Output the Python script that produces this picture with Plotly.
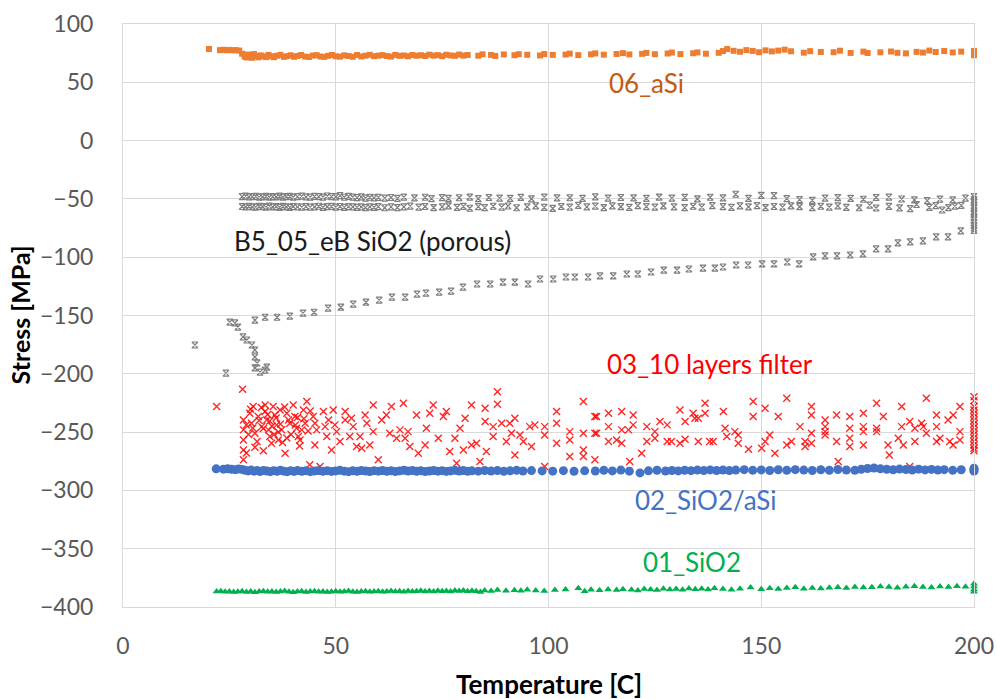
import plotly.graph_objects as go

# ---------------- data ----------------
aSi_x = [20.2, 22.8, 23.5, 24.3, 25.0, 25.8, 26.5, 27.3, 28.0, 28.6,
         29.0, 29.4, 29.8, 30.3, 30.8, 31.3, 31.8, 32.4, 33.0, 33.6,
         34.2, 34.8, 35.5, 36.2, 37.0, 37.8, 38.6, 39.4, 40.2, 41.0,
         41.9, 42.8, 43.7, 44.6, 45.5, 46.4, 47.3, 48.2, 49.1, 50.0,
         51.0, 52.0, 53.0, 54.0, 55.0, 56.0, 57.0, 58.0, 59.0, 60.0,
         61.0, 62.0, 63.0, 64.0, 65.0, 66.0, 67.0, 68.0, 69.0, 70.0,
         71.0, 72.0, 73.0, 74.0, 75.0, 76.0, 77.0, 78.0, 79.0, 80.0,
         81.0, 83.5, 84.5, 86.5, 87.5, 89.5, 92.0, 93.0, 95.0, 98.0,
         99.0, 101.0, 104.0, 105.0, 107.0, 110.0, 111.0, 113.0, 116.0, 117.5,
         119.0, 122.0, 123.0, 125.0, 128.0, 129.0, 131.0, 134.0, 135.0, 137.0,
         140.0, 141.0, 142.0, 143.5, 145.0, 146.5, 148.0, 149.5, 151.0, 152.5,
         154.0, 155.5, 157.0, 160.0, 161.5, 164.0, 167.0, 168.5, 171.0, 174.0,
         175.0, 178.0, 180.5, 182.0, 184.0, 186.5, 188.0, 189.5, 191.0, 193.0,
         195.0, 197.0, 200.0, 200.0, 200.0]
aSi_y = [78.6, 77.6, 77.9, 77.5, 77.8, 77.4, 77.6, 77.2, 74.5, 72.1,
         71.3, 73.8, 72.0, 71.0, 74.2, 72.5, 71.4, 73.1, 72.2, 71.6,
         73.5, 72.3, 71.5, 72.8, 73.6, 71.8, 72.4, 73.2, 71.9, 72.6,
         73.4, 72.0, 71.7, 72.9, 73.3, 72.1, 71.8, 72.7, 73.5, 72.3,
         72.0, 73.1, 72.6, 71.9, 73.4, 72.2, 72.8, 73.6, 72.4, 72.9,
         73.3, 72.5, 72.1, 73.5, 72.7, 73.0, 72.3, 73.4, 72.8, 73.2,
         72.6, 73.7, 72.9, 73.3, 72.4, 73.6, 73.0, 72.7, 73.8, 72.9,
         73.4, 72.8, 74.0, 73.5, 72.6, 73.9, 73.2, 74.1, 73.6, 73.0,
         74.2, 73.5, 73.8, 74.6, 73.3, 74.0, 74.8, 73.7, 74.3, 75.0,
         73.9, 74.4, 75.2, 74.1, 74.7, 75.5, 74.2, 74.9, 75.6, 74.5,
         75.3, 76.8, 78.5, 77.0, 76.2, 77.6, 76.9, 75.8, 77.4, 76.5,
         77.2, 78.0, 76.6, 75.4, 76.7, 76.0, 75.8, 77.1, 75.2, 76.3,
         75.1, 75.7, 76.4, 75.3, 74.8, 76.1, 75.5, 77.2, 76.0, 76.8,
         75.6, 76.3, 74.5, 76.8, 73.2]

porous_x = [28.0, 28.8, 29.6, 30.4, 31.2, 32.0, 32.8, 33.6, 34.4, 35.2,
            36.0, 36.8, 37.6, 38.4, 39.2, 40.0, 41.0, 42.0, 43.0, 44.0,
            45.0, 46.0, 47.0, 48.0, 49.0, 50.0, 51.0, 52.0, 53.0, 54.0,
            55.0, 56.0, 57.0, 58.0, 59.0, 60.0, 61.5, 63.0, 64.5, 66.0,
            68.5, 71.0, 72.5, 75.0, 76.5, 79.0, 81.5, 83.5, 86.0, 88.5,
            91.0, 93.5, 96.0, 99.0, 102.0, 105.0, 108.0, 111.0, 114.0, 117.0,
            120.0, 123.0, 126.0, 129.0, 132.0, 135.0, 138.0, 141.0, 144.0, 147.0,
            150.0, 153.0, 156.0, 159.0, 162.0, 165.0, 168.0, 171.0, 174.0, 177.0,
            180.0, 183.0, 186.0, 189.0, 192.0, 195.0, 198.0,
            28.0, 28.8, 29.6, 30.4, 31.2, 32.0, 32.8, 33.6, 34.4, 35.2,
            36.0, 36.8, 37.6, 38.4, 39.2, 40.0, 41.0, 42.0, 43.0, 44.0,
            45.0, 46.0, 47.0, 48.0, 49.0, 50.0, 51.0, 52.0, 53.0, 54.0,
            55.0, 56.0, 57.0, 58.0, 59.0, 60.0, 61.5, 63.0, 64.5, 66.0,
            67.5, 69.5, 71.0, 73.0, 75.0, 76.5, 78.5, 80.0, 81.5, 83.5,
            85.0, 87.0, 89.0, 90.5, 92.5, 95.0, 97.0, 99.0, 101.0, 103.0,
            105.0, 107.0, 109.0, 111.0, 113.0, 115.0, 117.0, 119.0, 121.0, 123.0,
            125.0, 127.0, 129.5, 132.0, 134.0, 136.0, 138.5, 141.0, 143.0, 145.0,
            147.0, 149.0, 151.0, 153.0, 155.0, 157.0, 159.0, 162.0, 164.0, 166.0,
            168.0, 170.0, 173.0, 175.5, 177.0, 180.0, 182.5, 185.0, 186.5, 189.5,
            191.0, 192.5, 194.0, 195.5, 197.0,
            200.0, 200.0, 200.0, 200.0, 200.0, 200.0, 200.0, 200.0, 200.0, 200.0,
            200.0, 200.0, 200.0, 200.0, 200.0,
            16.9, 24.2, 25.1, 26.3, 27.0, 28.2, 29.1, 30.3, 31.0, 31.0,
            31.5, 31.0, 32.2, 33.4, 33.8, 31.0, 33.4, 36.2, 39.2, 42.3,
            44.9, 48.2, 51.2, 54.1, 57.1, 60.2, 63.2, 66.3, 69.1, 71.2,
            74.3, 77.1, 79.9, 83.2, 86.3, 89.3, 92.1, 95.2, 98.0, 101.1,
            104.1, 106.2, 109.3, 112.1, 115.2, 118.4, 121.0, 124.1, 127.1, 130.2,
            133.0, 136.3, 139.1, 141.0, 144.1, 146.9, 150.2, 153.0, 156.1, 158.9,
            162.2, 165.0, 167.8, 170.9, 173.9, 177.0, 179.8, 182.1, 185.0, 188.0,
            191.1, 193.9, 196.9]
porous_y = [-48.0, -47.6, -48.3, -48.1, -47.8, -48.5, -48.2, -47.9, -48.4, -48.0,
            -48.3, -47.7, -48.6, -48.1, -47.9, -48.4, -48.0, -47.6, -48.2, -48.5,
            -47.8, -48.1, -48.4, -47.5, -48.0, -48.3, -47.2, -48.6, -47.9, -48.4,
            -48.9, -48.2, -49.3, -48.6, -49.1, -48.7, -49.4, -48.8, -49.6, -48.5,
            -49.2, -48.6, -49.8, -48.9, -49.5, -49.0, -48.4, -49.7, -48.8, -49.3,
            -49.5, -48.7, -49.9, -48.5, -49.2, -49.0, -49.6, -48.3, -49.4, -48.8,
            -49.1, -49.5, -48.4, -49.3, -48.7, -49.9, -48.6, -49.2, -46.0, -49.5,
            -47.0, -47.2, -49.8, -50.6, -51.2, -49.4, -48.9, -49.6, -50.3, -48.8,
            -48.5, -50.1, -50.9, -51.5, -50.2, -50.8, -49.4,
            -56.5, -56.9, -56.3, -56.8, -57.1, -56.4, -56.7, -57.0, -56.2, -56.8,
            -56.6, -57.2, -56.4, -56.9, -57.3, -56.5, -56.8, -57.1, -56.6, -57.0,
            -56.8, -56.3, -57.2, -56.7, -56.4, -57.0, -56.5, -57.3, -56.6, -56.9,
            -57.2, -56.8, -57.5, -56.9, -57.3, -56.6, -57.6, -56.8, -57.4, -56.9,
            -56.2, -57.0, -56.5, -57.4, -56.8, -55.9, -57.2, -56.4, -58.0, -56.6,
            -57.5, -56.3, -57.0, -56.1, -57.6, -56.8, -55.9, -57.3, -58.2, -56.5,
            -57.1, -55.6, -56.9, -56.2, -57.4, -56.0, -56.7, -57.3, -55.8, -56.6,
            -57.0, -55.9, -56.8, -57.5, -56.3, -57.1, -55.7, -56.6, -57.3, -56.0,
            -56.9, -55.8, -57.4, -56.5, -57.0, -55.9, -56.7, -57.5, -56.3, -57.1,
            -56.0, -57.2, -57.6, -55.3, -57.8, -56.4, -57.7, -58.3, -54.8, -57.2,
            -55.8, -59.5, -57.4, -56.2, -55.5,
            -48.0, -50.5, -53.0, -55.5, -58.0, -60.5, -63.0, -65.5, -68.0, -70.5,
            -73.0, -75.0, -77.0, -52.0, -62.0,
            -175.3, -199.4, -155.6, -156.4, -159.9, -168.4, -171.0, -175.3, -179.6, -185.6,
            -190.7, -195.0, -198.5, -196.8, -194.2, -154.0, -151.5, -151.5, -150.6, -148.0,
            -147.2, -143.7, -142.9, -140.3, -138.6, -136.8, -134.2, -134.2, -131.7, -130.8,
            -129.9, -129.1, -125.6, -123.0, -123.0, -121.3, -121.3, -123.0, -118.7, -118.7,
            -117.0, -117.0, -117.0, -116.1, -116.1, -114.4, -114.4, -112.7, -111.0, -111.0,
            -110.1, -109.3, -109.3, -108.4, -106.7, -106.7, -105.8, -105.8, -104.1, -105.8,
            -99.8, -98.9, -98.9, -98.1, -97.2, -92.9, -92.9, -87.7, -86.8, -86.0,
            -82.6, -82.6, -77.4]

filter_x = [22.0, 28.1, 28.3, 28.3, 28.3, 28.3, 28.3, 29.8, 30.6, 30.2,
            31.0, 31.8, 32.6, 33.4, 33.4, 33.8, 34.2, 34.5, 34.9, 35.3,
            35.7, 36.1, 36.5, 36.9, 37.3, 38.1, 38.5, 38.9, 39.2, 40.0,
            40.4, 40.8, 41.2, 41.6, 42.0, 42.4, 43.2, 42.8, 43.9, 44.7,
            45.1, 45.1, 45.5, 46.3, 47.1, 47.5, 47.9, 48.3, 49.0, 49.4,
            49.8, 50.2, 51.0, 52.2, 52.2, 53.3, 53.7, 54.1, 54.9, 55.7,
            56.1, 56.9, 57.3, 58.0, 58.8, 58.8, 60.0, 60.8, 61.9, 62.7,
            63.1, 64.3, 65.1, 65.9, 66.3, 67.0, 67.4, 69.0, 69.4, 71.0,
            71.3, 72.1, 72.9, 74.1, 75.3, 76.0, 76.8, 78.0, 78.4, 79.2,
            80.0, 80.4, 81.9, 81.9, 83.1, 83.9, 85.1, 85.1, 85.4, 87.0,
            87.0, 88.0, 88.0, 89.0, 90.1, 90.9, 91.3, 92.1, 92.1, 93.3,
            94.1, 95.6, 96.0, 96.8, 99.1, 99.1, 99.1, 101.9, 101.9, 101.9,
            105.0, 105.0, 105.0, 108.2, 108.2, 108.2, 108.2, 111.3, 111.3,
            29.0, 29.5, 30.0, 31.5, 32.0, 32.5, 33.0, 34.0, 35.0, 35.5,
            36.0, 37.0, 37.5, 38.0, 39.5, 40.5, 41.0, 43.5, 44.0, 31.0,
            33.0, 34.5, 36.5, 38.5, 42.5, 30.5, 29.0, 41.5,
            110.9, 110.9, 110.9, 114.1, 114.1, 114.1, 116.0, 117.2, 117.2, 117.2,
            118.8, 119.1, 119.9, 119.9, 121.9, 123.1, 123.1, 125.0, 125.0, 126.2,
            127.9, 127.9, 128.9, 130.9, 130.9, 132.1, 132.1, 134.0, 134.4, 135.2,
            135.2, 136.8, 136.8, 137.9, 138.7, 141.1, 141.5, 141.9, 143.8, 144.6,
            144.6, 147.0, 148.1, 148.1, 150.1, 150.9, 150.9, 152.0, 153.2, 154.0,
            156.0, 156.0, 157.1, 159.1, 160.3, 160.3, 161.8, 161.8, 161.8, 161.8,
            165.0, 165.0, 165.0, 165.0, 167.7, 167.7, 168.1, 170.8, 170.8, 170.8,
            170.8, 174.0, 174.0, 174.0, 174.0, 177.1, 177.1, 177.1, 178.7, 179.8,
            180.1, 182.2, 183.0, 183.0, 183.4, 184.9, 184.9, 186.1, 186.1, 187.7,
            188.1, 188.8, 188.8, 191.2, 191.2, 191.2, 192.0, 193.9, 194.3, 195.1,
            195.1, 196.7, 196.7, 196.7,
            200.0, 200.0, 200.0, 200.0, 200.0, 200.0, 200.0, 200.0, 200.0, 200.0,
            200.0, 200.0, 200.0, 200.0, 200.0, 200.0]
filter_y = [-228.1, -213.3, -239.6, -248.1, -256.7, -265.3, -273.8, -233.8, -228.1, -242.4,
            -251.0, -236.7, -245.3, -226.7, -232.4, -239.6, -248.1, -253.8, -259.6, -228.1,
            -235.3, -243.8, -256.7, -231.0, -248.1, -268.1, -233.8, -239.6, -242.4, -226.7,
            -236.7, -246.7, -253.8, -256.7, -248.1, -231.0, -223.8, -242.4, -278.1, -236.7,
            -242.4, -261.0, -248.1, -279.6, -232.4, -245.3, -253.8, -239.6, -265.3, -231.0,
            -243.8, -249.6, -258.1, -232.4, -239.6, -253.8, -238.1, -245.3, -262.4, -253.8,
            -263.8, -235.3, -242.4, -261.0, -226.7, -249.6, -273.8, -239.6, -235.3, -251.0,
            -228.1, -255.3, -248.1, -225.3, -255.3, -249.6, -262.4, -235.3, -268.1, -261.0,
            -246.7, -233.8, -226.7, -255.3, -236.7, -232.4, -266.7, -255.3, -276.7, -246.7,
            -265.3, -238.1, -226.7, -261.0, -259.6, -275.3, -229.6, -241.0, -266.7, -253.8,
            -245.3, -215.3, -226.1, -242.4, -258.1, -242.4, -251.0, -269.6, -238.1, -252.4,
            -258.1, -245.3, -262.4, -243.8, -245.3, -252.4, -279.6, -232.4, -242.4, -259.6,
            -249.6, -256.7, -271.0, -223.8, -251.0, -265.3, -271.0, -236.7, -251.0,
            -244.0, -252.0, -230.5, -258.0, -240.0, -229.0, -247.0, -235.0, -245.0, -252.0,
            -238.0, -243.0, -259.0, -228.5, -252.0, -244.0, -237.5, -249.0, -232.0, -263.0,
            -266.0, -240.5, -250.0, -255.0, -238.5, -246.5, -268.0, -262.0,
            -236.7, -251.0, -273.8, -233.8, -245.3, -258.1, -256.7, -232.4, -248.1, -259.6,
            -248.1, -275.3, -235.3, -243.8, -268.1, -245.3, -258.1, -249.6, -255.3, -241.0,
            -243.8, -258.1, -258.1, -231.0, -259.6, -241.0, -256.1, -233.8, -238.1, -238.1,
            -258.1, -225.3, -233.8, -258.1, -258.1, -232.4, -246.7, -253.8, -249.6, -252.4,
            -259.6, -264.7, -223.8, -236.7, -263.8, -229.6, -258.1, -252.4, -268.1, -236.7,
            -221.0, -261.0, -258.1, -245.3, -258.1, -262.4, -228.1, -235.3, -251.0, -259.6,
            -239.6, -245.3, -249.6, -252.4, -235.3, -258.1, -275.3, -236.7, -246.7, -255.3,
            -262.4, -233.8, -245.3, -249.6, -261.0, -225.3, -246.7, -249.6, -236.7, -261.0,
            -269.6, -255.3, -228.1, -245.3, -261.0, -279.6, -241.0, -246.7, -258.1, -242.4,
            -245.3, -221.0, -251.0, -235.3, -245.3, -258.1, -255.3, -239.6, -258.1, -235.3,
            -261.0, -228.1, -249.6, -256.7,
            -219.6, -223.0, -228.0, -231.0, -234.0, -237.0, -240.0, -243.0, -246.0, -249.0,
            -252.0, -255.0, -258.0, -261.0, -264.0, -266.0]

stack_x = [21.9, 23.6, 24.6, 25.5, 26.4, 27.2, 28.0, 28.7, 29.4, 30.1,
           30.8, 31.5, 32.2, 33.0, 33.8, 34.6, 35.4, 36.2, 37.0, 37.8,
           38.6, 39.4, 40.2, 41.0, 42.0, 43.0, 44.0, 45.0, 46.0, 47.0,
           48.0, 49.0, 50.0, 51.0, 52.0, 53.0, 54.0, 55.0, 56.0, 57.0,
           58.0, 59.0, 60.0, 61.0, 62.0, 63.0, 64.0, 65.0, 66.0, 67.0,
           68.0, 69.0, 70.0, 71.0, 72.0, 73.0, 74.0, 75.0, 76.0, 77.0,
           78.0, 79.0, 80.0, 81.0, 82.0, 83.5, 85.0, 86.5, 88.0, 89.5,
           91.0, 92.5, 94.0, 96.0, 98.5, 101.0, 103.5, 106.0, 108.5, 111.0,
           113.0, 115.0, 117.0, 119.0, 121.5, 123.5, 125.5, 127.5, 129.0, 130.5,
           132.0, 133.5, 135.0, 136.5, 138.0, 139.5, 141.0, 142.5, 144.0, 146.0,
           148.0, 150.0, 152.0, 154.0, 156.0, 158.0, 160.0, 162.0, 164.0, 166.0,
           168.0, 170.0, 172.0, 173.5, 175.0, 176.5, 178.0, 179.5, 181.0, 182.5,
           184.0, 185.5, 187.0, 188.5, 190.0, 191.5, 193.0, 195.0, 197.0, 200.0,
           200.0, 200.0]
stack_y = [-281.5, -281.8, -281.4, -281.9, -282.2, -281.6, -282.0, -282.8, -283.3, -282.6,
           -283.5, -283.0, -283.8, -282.9, -283.4, -283.9, -283.1, -283.6, -282.8, -283.5,
           -283.9, -283.2, -283.7, -283.0, -283.6, -283.2, -283.9, -283.4, -282.9, -283.6,
           -283.1, -283.7, -283.3, -282.8, -283.5, -283.9, -283.2, -283.6, -283.0, -283.4,
           -283.8, -283.1, -283.5, -282.9, -283.6, -283.2, -283.8, -283.3, -282.7, -283.4,
           -283.0, -283.6, -283.2, -283.8, -283.4, -282.9, -283.5, -283.1, -283.7, -283.3,
           -282.8, -283.4, -283.0, -283.6, -283.2, -283.5, -282.9, -283.4, -283.0, -283.6,
           -283.2, -282.8, -283.4, -283.0, -283.3, -283.5, -283.1, -283.6, -283.2, -283.4,
           -282.8, -283.3, -282.6, -283.5, -285.0, -283.2, -282.7, -283.4, -282.9, -283.3,
           -282.7, -283.1, -282.6, -283.0, -282.4, -282.9, -282.5, -283.0, -282.6, -282.2,
           -282.8, -282.4, -282.9, -282.3, -282.7, -282.2, -282.6, -282.9, -282.3, -282.7,
           -282.1, -282.5, -282.8, -281.9, -281.2, -280.8, -281.5, -281.9, -282.3, -281.7,
           -282.1, -282.5, -281.8, -282.4, -282.0, -282.6, -282.2, -282.8, -282.3, -282.0,
           -283.5, -281.0]

sio2_x = [22.0, 23.0, 24.0, 25.0, 26.0, 27.0, 28.0, 29.0, 30.0, 31.0,
          32.0, 33.0, 34.0, 35.0, 36.0, 37.0, 38.0, 39.0, 40.0, 41.0,
          42.0, 43.0, 44.0, 45.0, 46.0, 47.0, 48.0, 49.0, 50.0, 51.0,
          52.0, 53.0, 54.0, 55.0, 56.0, 57.0, 58.0, 59.0, 60.0, 61.0,
          62.0, 63.0, 64.0, 65.0, 66.0, 67.0, 68.0, 69.0, 70.0, 71.0,
          72.0, 73.0, 74.0, 75.0, 76.0, 77.0, 78.0, 79.0, 80.0, 81.0,
          82.0, 83.0, 84.0, 85.0, 86.5, 88.0, 90.0, 92.0, 93.5, 95.0,
          97.0, 99.0, 101.5, 104.0, 107.0, 108.5, 110.0, 112.0, 114.0, 116.0,
          117.5, 119.5, 121.0, 122.5, 124.0, 125.5, 127.0, 128.5, 130.0, 131.5,
          133.0, 134.5, 136.0, 137.5, 139.0, 141.0, 143.0, 145.0, 147.5, 150.0,
          152.0, 154.0, 156.0, 158.0, 160.0, 162.0, 164.0, 166.0, 168.0, 170.0,
          172.0, 174.0, 176.0, 178.0, 180.0, 182.0, 184.0, 186.0, 188.0, 190.0,
          192.0, 194.0, 196.0, 198.0, 200.0, 200.0, 200.0, 200.0]
sio2_y = [-386.8, -386.4, -387.0, -386.6, -387.2, -386.9, -386.5, -387.1, -386.7, -387.3,
          -386.8, -386.4, -387.0, -386.6, -387.2, -386.8, -386.3, -386.9, -387.3, -386.7,
          -386.5, -387.1, -386.8, -386.4, -387.0, -386.6, -387.2, -386.9, -386.5, -387.0,
          -386.7, -386.3, -386.9, -387.2, -386.6, -386.4, -387.0, -386.8, -386.5, -386.9,
          -386.6, -386.2, -386.8, -386.5, -386.9, -386.3, -386.7, -386.4, -386.1, -386.6,
          -386.3, -386.8, -386.0, -386.5, -386.2, -386.6, -385.8, -386.3, -385.9, -386.4,
          -386.0, -386.5, -387.2, -385.8, -386.2, -385.5, -386.0, -385.6, -386.1, -385.3,
          -385.8, -386.2, -385.4, -385.0, -384.0, -386.5, -385.2, -385.7, -385.0, -385.4,
          -384.8, -385.3, -385.9, -384.6, -385.0, -385.5, -384.4, -385.0, -384.6, -385.2,
          -384.2, -384.8, -384.4, -385.0, -384.0, -384.6, -385.1, -384.3, -383.2, -384.7,
          -384.0, -384.5, -383.8, -383.0, -384.3, -383.7, -384.1, -383.4, -383.0, -383.6,
          -382.8, -383.3, -383.0, -382.5, -382.9, -383.4, -382.6, -382.2, -382.8, -383.2,
          -382.4, -382.9, -382.1, -382.6, -380.0, -382.5, -385.0, -387.0]

x_ticks = [0, 50, 100, 150, 200]
y_ticks = [100, 50, 0, -50, -100, -150, -200, -250, -300, -350, -400]

labels = ["06_aSi", "B5_05_eB SiO2 (porous)", "03_10 layers filter", "02_SiO2/aSi", "01_SiO2"]
label_x = [123.1, 58.6, 138.0, 137.0, 133.8]
label_y = [49.8, -86.1, -191.6, -308.2, -361.4]
label_colors = ["#C55A11", "#1a1a1a", "#FF0000", "#4472C4", "#00B050"]

FONT = "Lato"

fig = go.Figure()
fig.add_trace(go.Scatter(x=aSi_x, y=aSi_y, mode="markers", name="06_aSi", cliponaxis=False,
                         marker=dict(symbol="square", size=6, color="#ED7D31", line=dict(width=0))))
fig.add_trace(go.Scatter(x=porous_x, y=porous_y, mode="markers", name="B5_05_eB SiO2 (porous)", cliponaxis=False,
                         marker=dict(symbol="hourglass-open", size=6, color="#7F7F7F", line=dict(width=1.2, color="#7F7F7F"))))
fig.add_trace(go.Scatter(x=filter_x, y=filter_y, mode="markers", name="03_10 layers filter", cliponaxis=False,
                         marker=dict(symbol="x-thin-open", size=7, color="rgba(255,0,0,0.85)", line=dict(width=1.4, color="rgba(255,0,0,0.85)"))))
fig.add_trace(go.Scatter(x=stack_x, y=stack_y, mode="markers", name="02_SiO2/aSi", cliponaxis=False,
                         marker=dict(symbol="circle", size=9, color="#4472C4", line=dict(width=0))))
fig.add_trace(go.Scatter(x=sio2_x, y=sio2_y, mode="markers", name="01_SiO2", cliponaxis=False,
                         marker=dict(symbol="triangle-up", size=7, color="#00B050", line=dict(width=0))))

for t, ax, ay, c in zip(labels, label_x, label_y, label_colors):
    fig.add_annotation(x=ax, y=ay, text=t, showarrow=False, xanchor="center", yanchor="middle",
                       font=dict(family=FONT, size=26, color=c))

fig.add_annotation(xref="paper", yref="paper", x=0.5, y=0, yshift=-77, text="<b>Temperature [C]</b>",
                   showarrow=False, xanchor="center", yanchor="middle",
                   font=dict(family=FONT, size=26, color="#000000"))
fig.add_annotation(xref="paper", yref="paper", x=0, y=0.5, xshift=-104, text="<b>Stress [MPa]</b>",
                   showarrow=False, xanchor="center", yanchor="middle", textangle=-90,
                   font=dict(family=FONT, size=25, color="#000000"))

axis_common = dict(showgrid=True, gridcolor="#D9D9D9", gridwidth=1, zeroline=False,
                   showline=True, linecolor="#D9D9D9", linewidth=1, mirror=True,
                   tickfont=dict(family=FONT, size=23, color="#595959"), ticks="")
fig.update_xaxes(range=[0, 200], tickvals=x_ticks, ticklabelstandoff=18, **axis_common)
fig.update_yaxes(range=[-400, 100], tickvals=y_ticks, ticklabelstandoff=24, **axis_common)

fig.update_layout(width=997, height=699, showlegend=False,
                  plot_bgcolor="white", paper_bgcolor="white",
                  margin=dict(l=123, r=23, t=24, b=92, autoexpand=False),
                  font=dict(family=FONT))

# remove the default 8px page margin so the figure fills the window exactly
fig.write_html("out.html", config={"displayModeBar": False},
               post_script="document.body.style.margin='0';document.body.style.overflow='hidden';")
